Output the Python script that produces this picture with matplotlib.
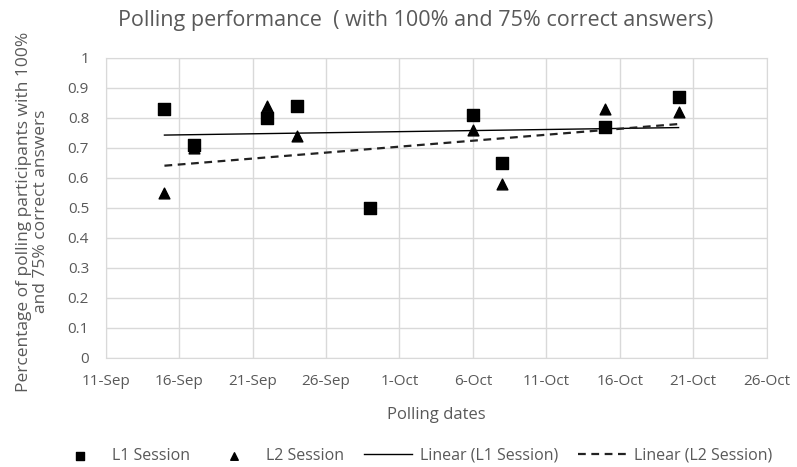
import numpy as np
import matplotlib
matplotlib.use("Agg")
import matplotlib.pyplot as plt
import matplotlib.dates as mdates

# ========== DATA ==========
L1_DATES = ["2020-09-15", "2020-09-17", "2020-09-22", "2020-09-24", "2020-09-29",
            "2020-10-06", "2020-10-08", "2020-10-15", "2020-10-20"]
L1_VALUES = [0.83, 0.71, 0.80, 0.84, 0.50, 0.81, 0.65, 0.77, 0.87]

L2_DATES = ["2020-09-15", "2020-09-17", "2020-09-22", "2020-09-24", "2020-09-29",
            "2020-10-06", "2020-10-08", "2020-10-15", "2020-10-20"]
L2_VALUES = [0.55, 0.70, 0.84, 0.74, 0.50, 0.76, 0.58, 0.83, 0.82]

X_START = "2020-09-11"
X_END = "2020-10-26"
# ==========================

GRAY = "#595959"
GRID = "#d9d9d9"

plt.rcParams["font.family"] = ["Open Sans", "DejaVu Sans"]


def to_num(dates):
    return mdates.datestr2num(dates)


def main():
    fig = plt.figure(figsize=(7.97, 4.67), dpi=100)
    ax = fig.add_axes([0.1326, 0.234, 0.8294, 0.6424])

    x1 = to_num(L1_DATES)
    x2 = to_num(L2_DATES)

    ax.scatter(x1, L1_VALUES, marker="s", s=65, color="black", zorder=3,
               label="L1 Session")
    ax.scatter(x2, L2_VALUES, marker="^", s=60, color="black", zorder=2.5,
               label="L2 Session")

    # linear trendlines like Excel
    p1 = np.polyfit(x1, L1_VALUES, 1)
    p2 = np.polyfit(x2, L2_VALUES, 1)
    xs = np.array([x1.min(), x1.max()])
    ax.plot(xs, np.polyval(p1, xs), color="black", lw=1.0, zorder=2,
            label="Linear (L1 Session)")
    ax.plot(xs, np.polyval(p2, xs), color="#222222", lw=1.6, ls=(0, (3.5, 2.5)),
            zorder=2, label="Linear (L2 Session)")

    xmin, xmax = to_num([X_START, X_END])
    ax.set_xlim(xmin, xmax)
    ax.set_ylim(0, 1)
    ax.set_xticks(np.arange(xmin, xmax + 1, 5))
    ax.xaxis.set_major_formatter(mdates.DateFormatter("%-d-%b"))
    ax.set_yticks(np.round(np.arange(0, 1.01, 0.1), 1))
    ax.yaxis.set_major_formatter(plt.FuncFormatter(lambda v, _: f"{v:g}"))

    ax.grid(True, color=GRID, lw=1)
    ax.set_axisbelow(True)
    for s in ax.spines.values():
        s.set_color(GRID)
    ax.tick_params(length=0, colors=GRAY, labelsize=11)
    ax.tick_params(axis="x", pad=12)
    ax.tick_params(axis="y", pad=12)

    ax.set_xlabel("Polling dates", color=GRAY, fontsize=12)
    ax.xaxis.set_label_coords(0.5, -0.165)
    ax.set_ylabel("Percentage of polling participants with 100%\nand 75% correct answers",
                  color=GRAY, fontsize=12.5, linespacing=1.1)
    ax.yaxis.set_label_coords(-0.086, 0.487)
    fig.text(0.522, 0.957, "Polling performance  ( with 100% and 75% correct answers)",
             ha="center", va="center", color=GRAY, fontsize=15.5)

    leg = fig.legend(loc="center", bbox_to_anchor=(0.52, 0.024), ncol=4,
                     frameon=False, fontsize=11.5, handlelength=3.0,
                     handletextpad=0.5, columnspacing=1.25, markerscale=0.7)
    for t in leg.get_texts():
        t.set_color(GRAY)

    fig.savefig("out.png", dpi=100)
    plt.close(fig)


if __name__ == "__main__":
    main()
